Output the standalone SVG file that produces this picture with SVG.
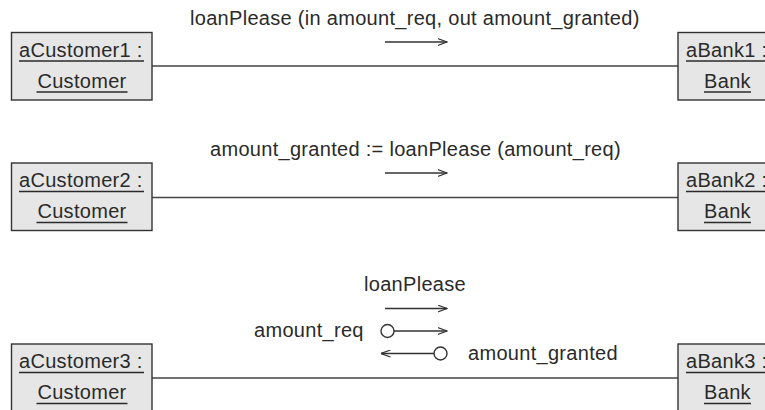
<svg xmlns="http://www.w3.org/2000/svg" width="765" height="410" viewBox="0 0 765 410">
  <style>
    .box { fill: #e6e6e6; stroke: #333; stroke-width: 1.4; }
    .t { font-family: "Liberation Sans", Arial, sans-serif; font-size: 20px; fill: #2a2a2a; letter-spacing: 0.3px; }
    .ul { stroke: #2a2a2a; stroke-width: 1.3; }
    .link { stroke: #444; stroke-width: 1.6; fill: none; }
    .msg { stroke: #333; stroke-width: 1.3; fill: none; }
    .dot { fill: #fff; stroke: #333; stroke-width: 1.4; }
  </style>
  <defs>
    <marker id="open" viewBox="0 0 10 8" refX="9.5" refY="4" markerWidth="10" markerHeight="8" markerUnits="userSpaceOnUse" orient="auto">
      <path d="M0,0.5 L9.5,4 L0,7.5" fill="none" stroke="#333" stroke-width="1.2"/>
    </marker>
  </defs>

  <rect width="765" height="410" fill="#fff"/>

  <!-- links between objects -->
  <g id="connectors">
    <line class="link" x1="152" y1="66" x2="678" y2="66"/>
    <line class="link" x1="152" y1="197.5" x2="678" y2="197.5"/>
    <line class="link" x1="152" y1="378" x2="678" y2="378"/>

    <!-- message 1 -->
    <text class="t" x="190" y="25">loanPlease (in amount_req, out amount_granted)</text>
    <line class="msg" x1="385" y1="42" x2="447" y2="42" marker-end="url(#open)"/>

    <!-- message 2 -->
    <text class="t" x="210" y="156">amount_granted := loanPlease (amount_req)</text>
    <line class="msg" x1="385" y1="173" x2="447" y2="173" marker-end="url(#open)"/>

    <!-- message 3 with data-flow tokens -->
    <text class="t" x="364" y="291">loanPlease</text>
    <line class="msg" x1="385" y1="308.5" x2="447" y2="308.5" marker-end="url(#open)"/>
    <text class="t" x="254" y="337">amount_req</text>
    <line class="msg" x1="394" y1="331" x2="447" y2="331" marker-end="url(#open)"/>
    <circle class="dot" cx="387.5" cy="331" r="6.5"/>
    <line class="msg" x1="434" y1="353.5" x2="381" y2="353.5" marker-end="url(#open)"/>
    <circle class="dot" cx="440.5" cy="353.5" r="6.5"/>
    <text class="t" x="468" y="360">amount_granted</text>
  </g>

  <!-- customer objects -->
  <g id="aCustomer1">
    <rect class="box" x="11.5" y="32.5" width="140.5" height="67.5"/>
    <text class="t" x="19" y="56.5">aCustomer1 :</text>
    <line class="ul" x1="19" y1="61" x2="144" y2="61"/>
    <text class="t" x="82" y="87.5" text-anchor="middle">Customer</text>
    <line class="ul" x1="36.5" y1="92" x2="127.5" y2="92"/>
  </g>
  <g id="aCustomer2">
    <rect class="box" x="11.5" y="163" width="140.5" height="67.5"/>
    <text class="t" x="19" y="187">aCustomer2 :</text>
    <line class="ul" x1="19" y1="191.5" x2="144" y2="191.5"/>
    <text class="t" x="82" y="218" text-anchor="middle">Customer</text>
    <line class="ul" x1="36.5" y1="222.5" x2="127.5" y2="222.5"/>
  </g>
  <g id="aCustomer3">
    <rect class="box" x="11.5" y="344" width="140.5" height="67.5"/>
    <text class="t" x="19" y="368">aCustomer3 :</text>
    <line class="ul" x1="19" y1="372.5" x2="144" y2="372.5"/>
    <text class="t" x="82" y="399" text-anchor="middle">Customer</text>
    <line class="ul" x1="36.5" y1="403.5" x2="127.5" y2="403.5"/>
  </g>

  <!-- bank objects (run past the right edge of the sheet) -->
  <g id="aBank1">
    <rect class="box" x="678" y="32.5" width="100" height="67.5"/>
    <text class="t" x="686" y="56.5">aBank1 :</text>
    <line class="ul" x1="686" y1="61" x2="770" y2="61"/>
    <text class="t" x="727.5" y="87.5" text-anchor="middle">Bank</text>
    <line class="ul" x1="704" y1="92" x2="751" y2="92"/>
  </g>
  <g id="aBank2">
    <rect class="box" x="678" y="163" width="100" height="67.5"/>
    <text class="t" x="686" y="187">aBank2 :</text>
    <line class="ul" x1="686" y1="191.5" x2="770" y2="191.5"/>
    <text class="t" x="727.5" y="218" text-anchor="middle">Bank</text>
    <line class="ul" x1="704" y1="222.5" x2="751" y2="222.5"/>
  </g>
  <g id="aBank3">
    <rect class="box" x="678" y="344" width="100" height="67.5"/>
    <text class="t" x="686" y="368">aBank3 :</text>
    <line class="ul" x1="686" y1="372.5" x2="770" y2="372.5"/>
    <text class="t" x="727.5" y="399" text-anchor="middle">Bank</text>
    <line class="ul" x1="704" y1="403.5" x2="751" y2="403.5"/>
  </g>
</svg>
